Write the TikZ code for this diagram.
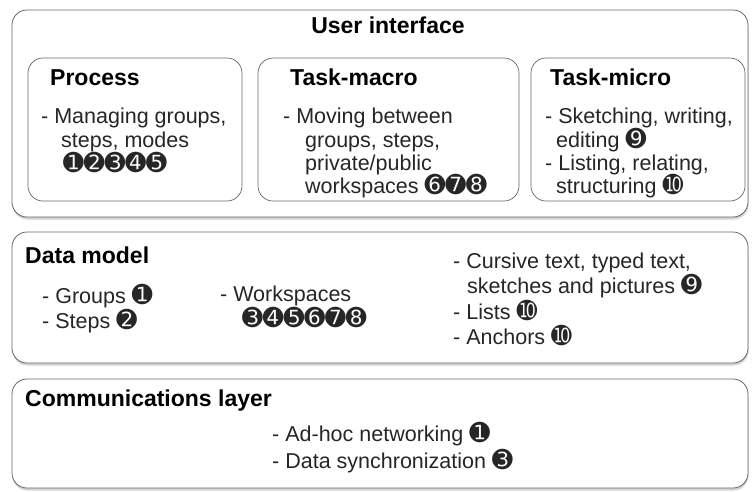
\documentclass[tikz,border=0pt]{standalone}
\usepackage{fontspec}
\setmainfont{Liberation Sans}
\newfontfamily\dingfont[Scale=1.15]{DejaVu Sans}
\usepackage{tikz}
\usetikzlibrary{shadows}
\usetikzlibrary{positioning}
\tikzstyle{layer}=[draw=black!60,line width=0.8pt,rounded corners=15pt,fill=white,inner sep=0pt,drop shadow={shadow xshift=0.5pt,shadow yshift=-2.5pt,opacity=0.35}]
\tikzstyle{panel}=[draw=black!60,line width=0.7pt,rounded corners=15pt,fill=white,inner sep=0pt]
\tikzstyle{heading}=[font=\fontsize{23}{26}\selectfont\bfseries,inner sep=0pt,anchor=base west]
\tikzstyle{item}=[font=\fontsize{21.5}{24}\selectfont,text=black!85,inner sep=0pt,anchor=base west]
\newcommand{\dg}[1]{{\dingfont #1}}

\begin{document}
\begin{tikzpicture}[x=1pt,y=-1pt]
    \useasboundingbox (0,0) rectangle (752,491);
    % First we draw the three layers
    \foreach \pos/\name/\h in {{(380,113.5)/ui/207}, {(380,297.5)/data/131}, {(380,433.5)/comm/109}}
        \node[layer,minimum width=736pt,minimum height=\h pt] (\name) at \pos {};
    % the three panels of the user interface
    \foreach \pos/\name/\w in {{(135,129.5)/process/214}, {(388.5,129.5)/macro/261}, {(638,129.5)/micro/214}}
        \node[panel,minimum width=\w pt,minimum height=143pt] (\name) at \pos {};

    % Then the headings
    \node[heading,anchor=base] (uititle) at (388,33) {User interface};
    \foreach \pos/\name/\label in {{(50,85)/proctitle/Process}, {(290,85)/macrotitle/Task-macro}, {(550,85)/microtitle/Task-micro}, {(25,263)/datatitle/Data model}, {(25,406)/commtitle/Communications layer}}
        \node[heading] (\name) at \pos {\label};

    % and the lines of text, one node each
    \foreach \pos/\name/\label in {{(41,123)/proc1/{- Managing groups,}}, {(61,147)/proc2/{steps, modes}}, {(63,171)/proc3/{\dg{➊➋➌➍➎}}},
        {(283,123)/macro1/{- Moving between}}, {(305,147)/macro2/{groups, steps,}}, {(305,170)/macro3/{private/public}}, {(305,193)/macro4/{workspaces \dg{➏➐➑}}},
        {(545,123)/micro1/{- Sketching, writing,}}, {(556,147)/micro2/{editing \dg{➒}}}, {(545,170)/micro3/{- Listing, relating,}}, {(556,193)/micro4/{structuring \dg{➓}}}}
        \node[item] (\name) at \pos {\label};
    \foreach \pos/\name/\label in {{(42,303)/groups/{- Groups \dg{➊}}}, {(42,328)/steps/{- Steps \dg{➋}}}, {(220,301)/wspace/{- Workspaces}}, {(242,326)/wsnums/{\dg{➌➍➎➏➐➑}}},
        {(453,268)/cursive/{- Cursive text, typed text,}}, {(467,293)/sketches/{sketches and pictures \dg{➒}}}, {(453,319)/lists/{- Lists \dg{➓}}}, {(453,344)/anchors/{- Anchors \dg{➓}}}}
        \node[item] (\name) at \pos {\label};
    \foreach \pos/\name/\label in {{(272,441)/adhoc/{- Ad-hoc networking \dg{➊}}}, {(272,468)/sync/{- Data synchronization \dg{➌}}}}
        \node[item] (\name) at \pos {\label};
\end{tikzpicture}
\end{document}
